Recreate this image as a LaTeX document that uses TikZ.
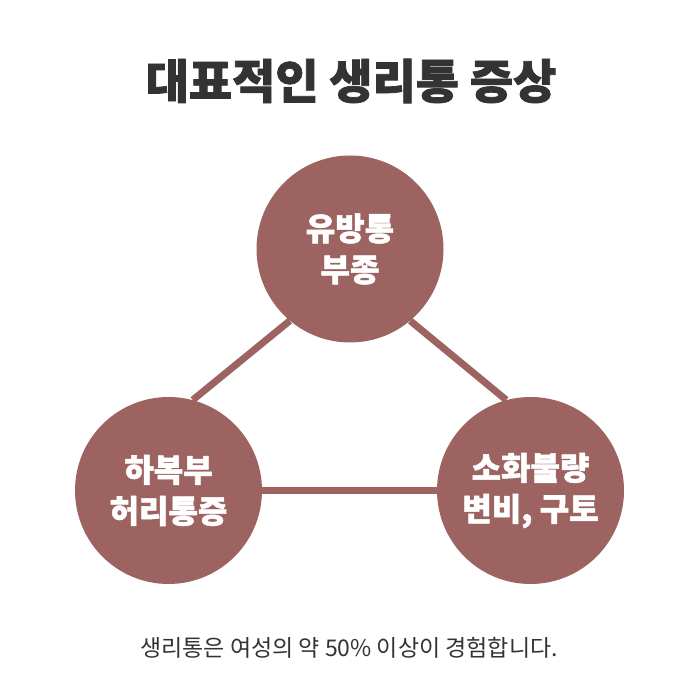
\documentclass[tikz,border=0pt]{standalone}
\usepackage{fontspec}
\setmainfont{Noto Sans CJK KR}
\newfontfamily\heavyfont{Noto Sans CJK KR}[BoldFeatures={FakeBold=1.6}]
\usetikzlibrary{positioning}
\definecolor{cmauve}{HTML}{9C6361}
\definecolor{cdark}{HTML}{333333}
\tikzset{
  every picture/.style={x=1pt, y=1pt},
  symptom/.style={circle, fill=cmauve, text=white, minimum size=187pt, inner sep=0pt, align=center,
    font=\heavyfont\fontsize{32}{41}\selectfont\bfseries},
  link/.style={draw=cmauve, line width=7pt},
  title/.style={font=\heavyfont\fontsize{47}{52}\selectfont\bfseries, text=cdark},
  note/.style={font=\fontsize{23}{26}\selectfont, text=cdark},
}
\begin{document}
\begin{tikzpicture}
  \useasboundingbox (0,0) rectangle (700,700);
  \node[title] (head) at (351,619) {대표적인 생리통 증상};
  % the three symptom circles
  \node[symptom] (breast) at (350,451) {유방통\\부종};
  \node[symptom] (back) at (168.5,209.5) {하복부\\허리통증};
  \node[symptom] (gut) at (530.5,209.5) {소화불량\\변비, 구토};
  \draw[link] (breast.-130) -- (back.75);
  \draw[link] (breast.-50) -- (gut.105);
  \draw[link] (back) -- (gut);
  \node[note] (foot) at (349,52) {생리통은 여성의 약 50\% 이상이 경험합니다.};
\end{tikzpicture}
\end{document}
